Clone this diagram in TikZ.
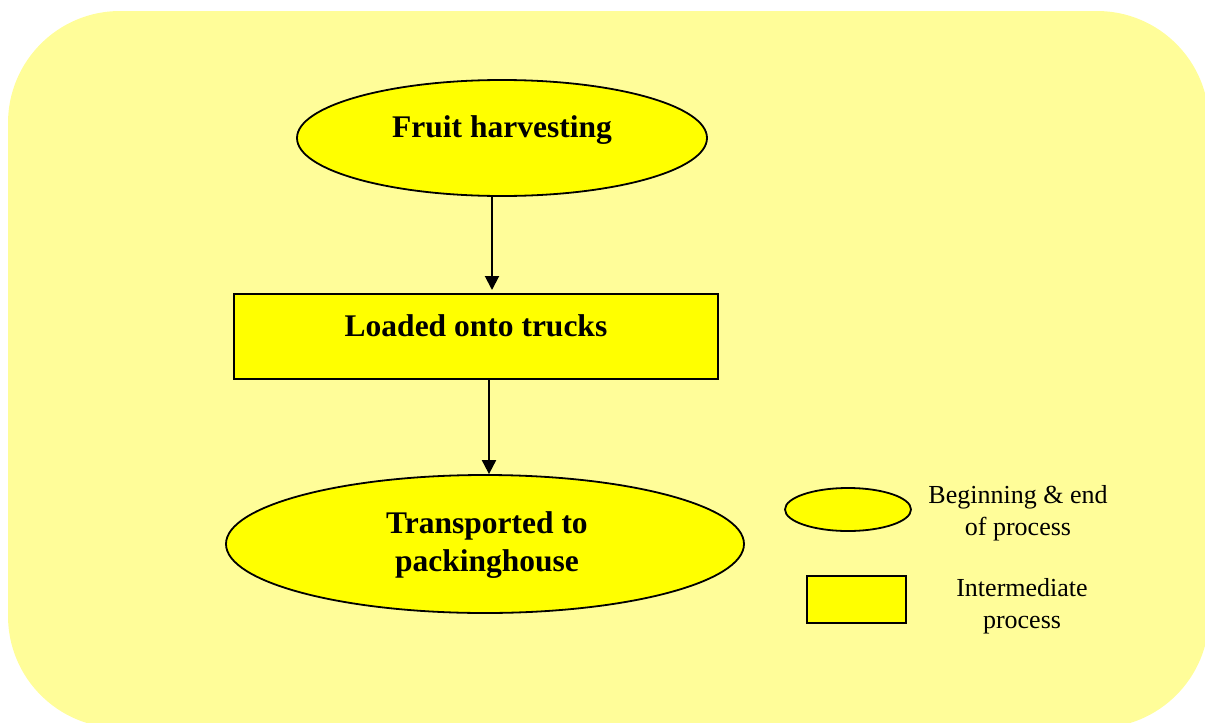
\documentclass[tikz,border=0pt]{standalone}
\usepackage{fontspec}
\setmainfont{Liberation Serif}
\usetikzlibrary{shapes.geometric,arrows.meta,calc}
\definecolor{panel}{HTML}{FFFD99}
\definecolor{boxfill}{HTML}{FFFF00}
\tikzset{
  terminal/.style={ellipse,draw=black,line width=1.8pt,fill=boxfill,inner sep=0pt},
  process/.style={rectangle,draw=black,line width=2pt,fill=boxfill,inner sep=0pt},
  bigtext/.style={font=\bfseries\fontsize{31.5}{38}\selectfont,align=center,inner sep=0pt},
  keytext/.style={font=\fontsize{26}{32}\selectfont,align=center,inner sep=0pt},
  flow/.style={line width=2pt,-{Triangle[width=14pt,length=14pt]}}
}
\begin{document}
\begin{tikzpicture}[x=1pt,y=-1pt]
  \useasboundingbox (0,0) rectangle (1205,723);
  % rounded background panel
  \fill[panel,rounded corners=112pt] (8,11) rectangle (1209,728);

  % flow steps
  \node[terminal,minimum width=410pt,minimum height=116pt] (fruit) at (502,138) {};
  \node[bigtext] (fruitT) at (502,130) {Fruit harvesting};

  \node[process,minimum width=484pt,minimum height=85pt] (load) at (475.5,336.5) {};
  \node[bigtext] (loadT) at (476,326) {Loaded onto trucks};

  \node[terminal,minimum width=518pt,minimum height=138pt] (trans) at (485,544) {};
  \node[bigtext] (transT) at (487,545) {Transported to\\packinghouse};

  % connectors
  \coordinate (c1) at (492,0);
  \coordinate (c2) at (489,0);
  \draw[flow] (c1 |- fruit.south) -- ($(c1 |- load.north)+(0,-3)$);
  \draw[flow] (c2 |- load.south) -- (c2 |- trans.north);

  % legend
  \node[terminal,minimum width=126pt,minimum height=43pt] (keyE) at (848,509.5) {};
  \node[keytext] (keyET) at (1018,513) {Beginning \& end\\of process};
  \node[process,minimum width=99pt,minimum height=47pt] (keyR) at (856.5,599.5) {};
  \node[keytext] (keyRT) at (1022,606) {Intermediate\\process};
\end{tikzpicture}
\end{document}
